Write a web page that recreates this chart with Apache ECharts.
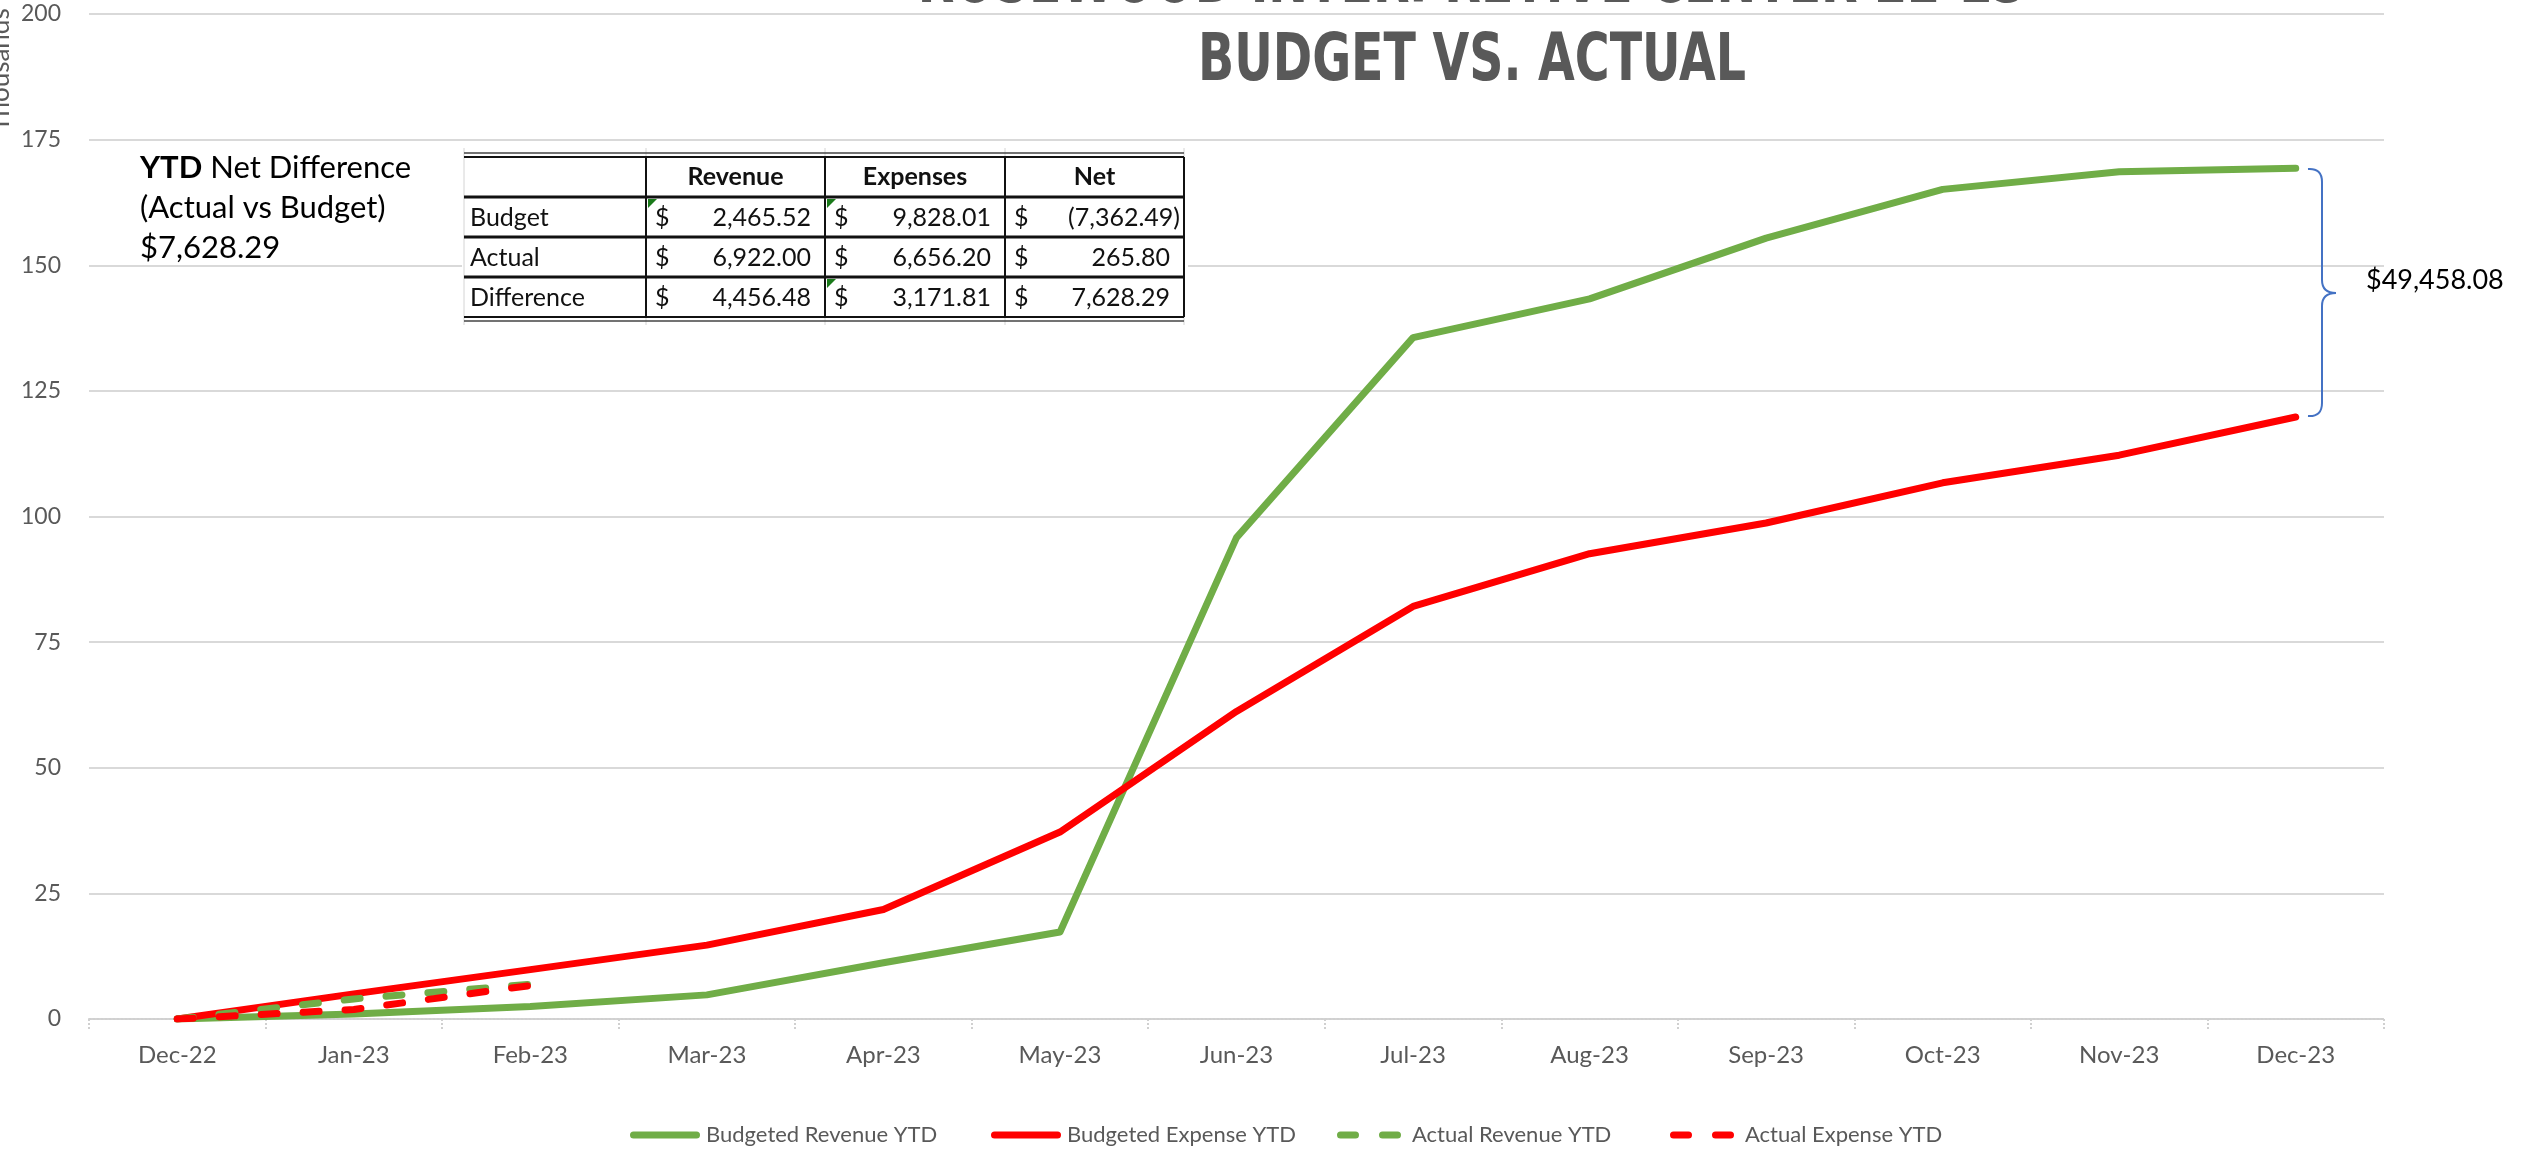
<!DOCTYPE html>
<html>
<head>
<meta charset="utf-8">
<title>Budget vs. Actual</title>
<script src="https://cdn.jsdelivr.net/npm/echarts@6/dist/echarts.min.js"></script>
<style>
  html, body { margin: 0; padding: 0; background: #fff; }
  #chart { width: 2526px; height: 1149px; }
</style>
</head>
<body>
<div id="chart"></div>
<script>
// datos del grafico (miles)
const meses = ['Dec-22', 'Jan-23', 'Feb-23', 'Mar-23', 'Apr-23', 'May-23', 'Jun-23', 'Jul-23', 'Aug-23', 'Sep-23', 'Oct-23', 'Nov-23', 'Dec-23'];
const budgetedRevenue = [0, 1.0, 2.47, 4.8, 11.2, 17.3, 95.8, 135.6, 143.3, 155.4, 165.1, 168.6, 169.3];
const budgetedExpense = [0, 5.0, 9.83, 14.7, 21.8, 37.2, 61.2, 82.1, 92.6, 98.7, 106.7, 112.2, 119.8];
const actualRevenue = [0, 4.0, 6.92, null, null, null, null, null, null, null, null, null, null];
const actualExpense = [0, 1.9, 6.66, null, null, null, null, null, null, null, null, null, null];
const seriesNames = ['Budgeted Revenue YTD', 'Budgeted Expense YTD', 'Actual Revenue YTD', 'Actual Expense YTD'];

// tabla resumen
const tablaColumnas = ['Revenue', 'Expenses', 'Net'];
const tablaFilas = ['Budget', 'Actual', 'Difference'];
const tablaValores = [
    [2465.52, 9828.01, -7362.49],
    [6922.00, 6656.20, 265.80],
    [4456.48, 3171.81, 7628.29]
];
const netDifference = '$7,628.29';
const gapDiciembre = '$49,458.08';
const tituloLineas = ['ROSEWOOD INTERPRETIVE CENTER 22-23', 'BUDGET VS. ACTUAL'];

const GREEN = '#70AD47';
const RED = '#FF0000';
const GRAY = '#595959';
const FONT = 'Lato, "Noto Sans", sans-serif';
const TITLE_FONT = '"DejaVu Sans Condensed", "DejaVu Sans", sans-serif';

// iconos de la leyenda (linea continua y discontinua)
const ICON_SOLID = 'path://M3.5,0h63a3.5,3.5 0 0 1 0,7h-63a3.5,3.5 0 0 1 0,-7z';
const ICON_DASH = 'path://M3.5,0h15a3.5,3.5 0 0 1 0,7h-15a3.5,3.5 0 0 1 0,-7z M45.5,0h15a3.5,3.5 0 0 1 0,7h-15a3.5,3.5 0 0 1 0,-7z';

function formatoMoneda(v) {
    const s = Math.abs(v).toLocaleString('en-US', { minimumFractionDigits: 2, maximumFractionDigits: 2 });
    return v < 0 ? '(' + s + ')' : s;
}

// geometria de la tabla
const colX = [464, 646, 825, 1005, 1184];
const rowY = [157, 197, 237, 277, 317];

function construirTabla() {
    const els = [];
    els.push({ type: 'rect', shape: { x: 462, y: 152, width: 726, height: 170 }, style: { fill: '#fff' }, z: 10 });
    // lineas grises de excel
    colX.forEach(x => {
        els.push({ type: 'line', shape: { x1: x, y1: 148, x2: x, y2: 325 }, style: { stroke: '#d4d4d4', lineWidth: 1 }, z: 11 });
    });
    // bordes horizontales
    rowY.forEach((y, i) => {
        const doble = (i === 0 || i === rowY.length - 1);
        els.push({ type: 'line', shape: { x1: colX[0], y1: y, x2: colX[4], y2: y }, style: { stroke: '#111', lineWidth: doble ? 2 : 3 }, z: 12 });
        if (doble) {
            const y2 = i === 0 ? y - 4 : y + 4;
            els.push({ type: 'line', shape: { x1: colX[0], y1: y2, x2: colX[4], y2: y2 }, style: { stroke: '#444', lineWidth: 1.5 }, z: 12 });
        }
    });
    // bordes verticales
    colX.slice(1).forEach(x => {
        els.push({ type: 'line', shape: { x1: x, y1: rowY[0], x2: x, y2: rowY[4] }, style: { stroke: '#111', lineWidth: 2 }, z: 12 });
    });
    // encabezados
    tablaColumnas.forEach((c, j) => {
        els.push({ type: 'text', x: (colX[j + 1] + colX[j + 2]) / 2, y: (rowY[0] + rowY[1]) / 2,
            style: { text: c, font: 'bold 25px ' + FONT, fill: '#111', align: 'center', verticalAlign: 'middle' }, z: 13 });
    });
    // filas
    tablaFilas.forEach((f, i) => {
        const cy = (rowY[i + 1] + rowY[i + 2]) / 2 + 1;
        els.push({ type: 'text', x: colX[0] + 6, y: cy,
            style: { text: f, font: '25px ' + FONT, fill: '#111', align: 'left', verticalAlign: 'middle' }, z: 13 });
        tablaValores[i].forEach((v, j) => {
            const left = colX[j + 1], right = colX[j + 2];
            els.push({ type: 'text', x: left + 9, y: cy,
                style: { text: '$', font: '25px ' + FONT, fill: '#111', align: 'left', verticalAlign: 'middle' }, z: 13 });
            els.push({ type: 'text', x: v < 0 ? right - 4 : right - 14, y: cy,
                style: { text: formatoMoneda(v), font: '25px ' + FONT, fill: '#111', align: 'right', verticalAlign: 'middle' }, z: 13 });
        });
    });
    // indicadores verdes de excel
    [[1, 0], [1, 1], [3, 1]].forEach(([r, c]) => {
        const x = colX[c + 1] + 2, y = rowY[r] + 2;
        els.push({ type: 'polygon', shape: { points: [[x, y], [x + 9, y], [x, y + 9]] }, style: { fill: '#1a7a1a' }, z: 14 });
    });
    return els;
}

// llave azul a la derecha
function construirLlave() {
    const st = { stroke: '#4472C4', lineWidth: 2, fill: null };
    const x0 = 2308, xm = 2322, xt = 2336, yTop = 169, yMid = 293, yBot = 416;
    return [
        { type: 'bezierCurve', shape: { x1: x0, y1: yTop, cpx1: xm, cpy1: yTop - 1, x2: xm, y2: yTop + 13 }, style: st, z: 20 },
        { type: 'line', shape: { x1: xm, y1: yTop + 13, x2: xm, y2: yMid - 13 }, style: st, z: 20 },
        { type: 'bezierCurve', shape: { x1: xm, y1: yMid - 13, cpx1: xm, cpy1: yMid, x2: xt, y2: yMid }, style: st, z: 20 },
        { type: 'bezierCurve', shape: { x1: xt, y1: yMid, cpx1: xm, cpy1: yMid, x2: xm, y2: yMid + 13 }, style: st, z: 20 },
        { type: 'line', shape: { x1: xm, y1: yMid + 13, x2: xm, y2: yBot - 13 }, style: st, z: 20 },
        { type: 'bezierCurve', shape: { x1: xm, y1: yBot - 13, cpx1: xm, cpy1: yBot + 1, x2: x0, y2: yBot }, style: st, z: 20 }
    ];
}

const chart = echarts.init(document.getElementById('chart'));

const leyendas = seriesNames.map((n, i) => {
    const discontinua = i >= 2;
    return {
        data: [{ name: n, icon: discontinua ? ICON_DASH : ICON_SOLID }],
        left: [625, 986, 1332, 1665][i],
        top: 1119,
        itemWidth: discontinua ? 64 : 72,
        itemHeight: 7,
        itemGap: 5,
        selectedMode: false,
        textStyle: { color: GRAY, fontSize: 22, fontFamily: FONT, padding: [0, 0, 0, discontinua ? 6 : 0] }
    };
});

function serie(nombre, datos, color, discontinua) {
    return {
        name: nombre,
        type: 'line',
        data: datos,
        symbol: 'none',
        smooth: false,
        connectNulls: false,
        lineStyle: {
            color: color,
            width: 7,
            cap: 'round',
            join: 'round',
            type: discontinua ? [16, 26] : 'solid'
        },
        itemStyle: { color: color }
    };
}

const option = {
    animation: false,
    backgroundColor: '#fff',
    legend: leyendas,
    grid: { left: 89, right: 142, top: 14, bottom: 130 },
    xAxis: {
        type: 'category',
        data: meses,
        boundaryGap: true,
        axisLine: { lineStyle: { color: '#d0d0d0', width: 2, type: 'dotted' } },
        axisTick: { show: true, alignWithLabel: false, length: 10, lineStyle: { color: '#d0d0d0', width: 2, type: 'dotted' } },
        axisLabel: { color: GRAY, fontSize: 24, fontFamily: FONT, margin: 24 }
    },
    yAxis: {
        type: 'value',
        min: 0,
        max: 200,
        interval: 25,
        axisLine: { show: false },
        axisTick: { show: false },
        splitLine: { lineStyle: { color: '#d9d9d9', width: 2 } },
        axisLabel: { color: GRAY, fontSize: 23, fontFamily: FONT, margin: 28 }
    },
    series: [
        serie(seriesNames[0], budgetedRevenue, GREEN, false),
        serie(seriesNames[1], budgetedExpense, RED, false),
        serie(seriesNames[2], actualRevenue, GREEN, true),
        serie(seriesNames[3], actualExpense, RED, true)
    ],
    graphic: [
        // titulo (primera linea cortada arriba)
        {
            type: 'text', x: 1472, y: -15, scaleX: 0.8, z: 5,
            style: { text: tituloLineas[0], font: 'bold 66px ' + TITLE_FONT, fill: GRAY, align: 'center', verticalAlign: 'middle' }
        },
        {
            type: 'text', x: 1472, y: 63, scaleX: 0.8, z: 5,
            style: { text: tituloLineas[1], font: 'bold 66px ' + TITLE_FONT, fill: GRAY, align: 'center', verticalAlign: 'middle' }
        },
        // nombre del eje y
        {
            type: 'text', x: 14, y: 70, rotation: Math.PI / 2,
            style: { text: 'Thousands', font: '26px ' + FONT, fill: GRAY, align: 'center', verticalAlign: 'bottom' }
        },
        // diferencia neta
        {
            type: 'text', x: 140, y: 148,
            style: {
                text: '{b|YTD} Net Difference\n(Actual vs Budget)\n' + netDifference,
                fill: '#000',
                font: '31px ' + FONT,
                lineHeight: 40,
                rich: { b: { fontWeight: 'bold', fontSize: 31, fontFamily: FONT, fill: '#000', lineHeight: 40 } }
            },
            z: 20
        },
        {
            type: 'text', x: 2366, y: 280, z: 20,
            style: { text: gapDiciembre, font: '27px ' + FONT, fill: '#000', align: 'left', verticalAlign: 'middle' }
        }
    ].concat(construirLlave(), construirTabla())
};

chart.setOption(option);
</script>
</body>
</html>
